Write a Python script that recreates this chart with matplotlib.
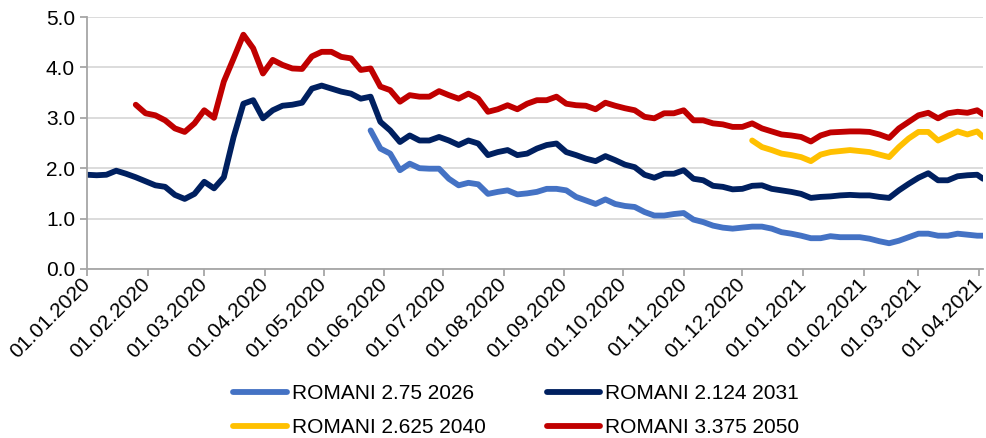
import numpy as np
import pandas as pd
import matplotlib
matplotlib.use("Agg")
from matplotlib import pyplot as plt
import matplotlib.dates as mdates

plt.rcParams['font.family'] = ['Liberation Sans', 'DejaVu Sans']

# yields, one value every 5 days, last value on 03.04.2021
last_day = "2021-04-03"

r2031_start = "2020-01-01"
r2031 = [1.87, 1.86, 1.87, 1.95, 1.89, 1.82, 1.74, 1.66, 1.63, 1.47,
         1.39, 1.49, 1.73, 1.60, 1.82, 2.62, 3.28, 3.35, 2.99, 3.15,
         3.24, 3.26, 3.30, 3.58, 3.64, 3.58, 3.52, 3.48, 3.38, 3.42,
         2.92, 2.75, 2.52, 2.65, 2.55, 2.55, 2.62, 2.55, 2.46, 2.55,
         2.49, 2.26, 2.32, 2.36, 2.26, 2.29, 2.39, 2.46, 2.49, 2.32,
         2.26, 2.19, 2.14, 2.24, 2.16, 2.07, 2.02, 1.87, 1.81, 1.89,
         1.89, 1.96, 1.79, 1.76, 1.65, 1.63, 1.58, 1.59, 1.65, 1.66,
         1.59, 1.56, 1.53, 1.49, 1.41, 1.43, 1.44, 1.46, 1.47, 1.46,
         1.46, 1.43, 1.41, 1.56, 1.69, 1.81, 1.90, 1.76, 1.76, 1.84,
         1.86, 1.87, 1.79]

r2050_start = "2020-01-26"
r2050 = [3.26, 3.09, 3.05, 2.95, 2.79, 2.72, 2.89, 3.15, 3.00, 3.72,
         4.18, 4.65, 4.38, 3.88, 4.15, 4.05, 3.98, 3.97, 4.22, 4.31,
         4.31, 4.21, 4.18, 3.95, 3.98, 3.62, 3.55, 3.32, 3.45, 3.42,
         3.42, 3.53, 3.45, 3.38, 3.48, 3.38, 3.12, 3.17, 3.25, 3.17,
         3.28, 3.35, 3.35, 3.42, 3.28, 3.25, 3.24, 3.17, 3.30, 3.24,
         3.19, 3.15, 3.02, 2.99, 3.09, 3.09, 3.15, 2.95, 2.95, 2.89,
         2.87, 2.82, 2.82, 2.89, 2.79, 2.73, 2.67, 2.65, 2.62, 2.53,
         2.65, 2.71, 2.72, 2.73, 2.73, 2.72, 2.67, 2.60, 2.79, 2.92,
         3.05, 3.10, 2.99, 3.09, 3.12, 3.10, 3.15, 3.07]

r2026_start = "2020-05-25"
r2026 = [2.75, 2.39, 2.29, 1.96, 2.09, 2.00, 1.99, 1.99, 1.79, 1.66,
         1.71, 1.68, 1.49, 1.53, 1.56, 1.48, 1.50, 1.53, 1.59, 1.59,
         1.56, 1.43, 1.36, 1.29, 1.38, 1.29, 1.25, 1.23, 1.13, 1.06,
         1.06, 1.09, 1.11, 0.98, 0.93, 0.86, 0.82, 0.80, 0.82, 0.84,
         0.84, 0.80, 0.73, 0.70, 0.66, 0.61, 0.61, 0.65, 0.63, 0.63,
         0.63, 0.60, 0.55, 0.51, 0.56, 0.63, 0.70, 0.70, 0.66, 0.66,
         0.70, 0.68, 0.66, 0.66]

r2040_start = "2020-12-06"
r2040 = [2.55, 2.42, 2.36, 2.29, 2.26, 2.22, 2.14, 2.27, 2.32, 2.34,
         2.36, 2.34, 2.32, 2.27, 2.22, 2.42, 2.59, 2.72, 2.72, 2.55,
         2.64, 2.73, 2.67, 2.73, 2.62]

series = [
    ("ROMANI 2.75 2026", r2026_start, r2026, "#4472C4"),
    ("ROMANI 2.124 2031", r2031_start, r2031, "#002060"),
    ("ROMANI 2.625 2040", r2040_start, r2040, "#FFC000"),
    ("ROMANI 3.375 2050", r2050_start, r2050, "#C00000"),
]


def make_dates(start, n):
    d = pd.date_range(start, periods=n - 1, freq="5D")
    return d.append(pd.DatetimeIndex([last_day]))


fig = plt.figure(figsize=(9.87, 4.38), dpi=100)
ax = fig.add_axes([0.088, 0.386, 0.908, 0.575])

lines = {}
for name, start, vals, col in series:
    lines[name], = ax.plot(make_dates(start, len(vals)), vals, color=col,
                           lw=4.2, solid_capstyle="round", label=name)

ax.set_ylim(0, 5)
ax.set_yticks(np.arange(0, 5.01, 1.0))
ax.yaxis.set_major_formatter(matplotlib.ticker.FormatStrFormatter('%.1f'))
ax.set_xlim(pd.Timestamp("2020-01-01"), pd.Timestamp("2021-04-03"))
ax.xaxis.set_major_locator(mdates.MonthLocator())
ax.xaxis.set_major_formatter(mdates.DateFormatter('%d.%m.%Y'))

ax.grid(axis='y', color='#D9D9D9', lw=1.3)
ax.set_axisbelow(True)
for s in ['top', 'right']:
    ax.spines[s].set_visible(False)
for s in ['left', 'bottom']:
    ax.spines[s].set_color('#A6A6A6')
    ax.spines[s].set_linewidth(1.3)
ax.tick_params(axis='both', colors='#A6A6A6', length=5, width=1.3,
               labelcolor='#000000', labelsize=15)
ax.tick_params(axis='x', pad=4)
plt.setp(ax.get_xticklabels(), rotation=45, ha='right', va='center',
         rotation_mode='anchor')

# legend is filled column by column, so order it to read row by row
order = ["ROMANI 2.75 2026", "ROMANI 2.625 2040",
         "ROMANI 2.124 2031", "ROMANI 3.375 2050"]
fig.legend([lines[n] for n in order], order, loc='upper left',
           bbox_to_anchor=(0.226, 0.146), ncol=2, frameon=False, fontsize=15,
           handlelength=2.55, handletextpad=0.25, columnspacing=2.95,
           labelspacing=0.72, borderpad=0)

fig.savefig("out.png", dpi=100)
